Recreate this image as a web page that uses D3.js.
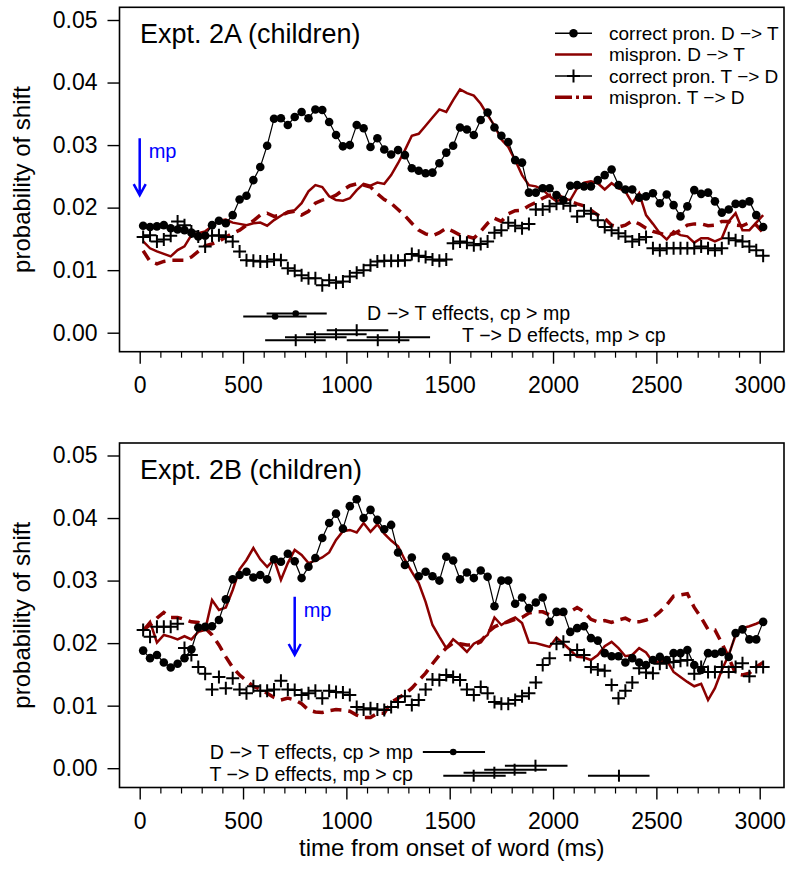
<!DOCTYPE html>
<html><head><meta charset="utf-8">
<script src="https://cdn.jsdelivr.net/npm/d3@7"></script>
<style>body{margin:0;background:#fff} text{font-family:"Liberation Sans",Arial,Helvetica,sans-serif}</style>
</head><body><svg id="c" width="798" height="870"></svg>
<script>
// ---------- data ----------
const times = d3.range(91).map(i => 16.7 + i * 100 / 3);   // sample times (ms), 30 Hz frames
const xTicks = [0, 500, 1000, 1500, 2000, 2500, 3000];
const xMinor = d3.range(0, 3001, 100).filter(d => d % 500 !== 0);
const yTicks = [0, 0.01, 0.02, 0.03, 0.04, 0.05];
const seriesLabels = ["correct pron. D \u2212> T", "mispron. D \u2212> T", "correct pron. T \u2212> D", "mispron. T \u2212> D"];
const panelTitles = ["Expt. 2A (children)", "Expt. 2B (children)"];
const effectLabels = ["D \u2212> T effects, cp > mp", "T \u2212> D effects, mp > cp"];

// Expt 2A
const cpDT_A = [.0171,.0169,.0170,.0172,.0167,.0165,.0164,.0160,.0154,.0155,.0172,.0179,.0175,.0188,.0213,.0219,.0244,.0265,.0299,.0342,.0343,.0332,.0345,.0353,.0343,.0357,.0356,.0337,.0316,.0298,.0300,.0332,.0327,.0297,.0311,.0293,.0285,.0292,.0284,.0263,.0259,.0255,.0256,.0271,.0288,.0299,.0328,.0325,.0316,.0340,.0352,.0328,.0315,.0305,.0276,.0272,.0224,.0224,.0231,.0231,.0220,.0212,.0235,.0236,.0234,.0234,.0244,.0252,.0261,.0236,.0229,.0229,.0216,.0218,.0223,.0207,.0221,.0204,.0186,.0202,.0228,.0222,.0224,.0210,.0192,.0197,.0206,.0206,.0210,.0188,.0169];
const mpDT_A = [.0146,.0135,.0130,.0126,.0122,.0132,.0138,.0156,.0159,.0162,.0170,.0179,.0181,.0176,.0174,.0172,.0175,.0176,.0171,.0180,.0187,.0194,.0196,.0207,.0226,.0236,.0233,.0218,.0212,.0211,.0215,.0228,.0238,.0235,.0240,.0238,.0252,.0271,.0292,.0315,.0318,.0331,.0344,.0357,.0353,.0372,.0389,.0383,.0379,.0366,.0348,.0331,.0309,.0297,.0276,.0252,.0236,.0234,.0229,.0218,.0210,.0215,.0212,.0231,.0240,.0242,.0239,.0229,.0239,.0231,.0226,.0207,.0223,.0188,.0174,.0159,.0149,.0162,.0156,.0154,.0144,.0151,.0151,.0146,.0151,.0178,.0191,.0164,.0164,.0176,.0188];
const cpTD_A = [.0153,.0156,.0146,.0149,.0155,.0178,.0172,.0162,.0154,.0138,.0155,.0156,.0153,.0146,.0130,.0116,.0115,.0114,.0114,.0117,.0116,.0103,.0099,.0092,.0087,.0087,.0076,.0084,.0080,.0082,.0090,.0096,.0100,.0108,.0114,.0115,.0115,.0115,.0116,.0126,.0123,.0121,.0117,.0115,.0117,.0143,.0146,.0144,.0140,.0142,.0146,.0160,.0164,.0176,.0171,.0167,.0174,.0197,.0197,.0202,.0206,.0207,.0203,.0186,.0195,.0190,.0180,.0169,.0164,.0159,.0154,.0146,.0149,.0153,.0135,.0132,.0135,.0135,.0135,.0135,.0135,.0138,.0135,.0132,.0135,.0151,.0148,.0146,.0138,.0132,.0123];
const mpTD_A = [.0131,.0114,.0110,.0114,.0116,.0116,.0116,.0121,.0130,.0139,.0142,.0146,.0153,.0159,.0164,.0172,.0179,.0188,.0191,.0186,.0188,.0192,.0194,.0188,.0194,.0207,.0212,.0215,.0220,.0228,.0235,.0238,.0236,.0233,.0222,.0213,.0207,.0197,.0187,.0175,.0164,.0158,.0155,.0160,.0167,.0162,.0156,.0154,.0151,.0162,.0175,.0183,.0178,.0190,.0195,.0196,.0203,.0208,.0215,.0220,.0222,.0215,.0210,.0206,.0203,.0196,.0188,.0183,.0172,.0169,.0172,.0179,.0174,.0167,.0162,.0159,.0156,.0158,.0164,.0172,.0174,.0174,.0171,.0172,.0178,.0178,.0172,.0171,.0176,.0172,.0160];

// Expt 2B
const cpDT_B = [.0188,.0176,.0181,.0169,.0161,.0167,.0176,.0190,.0225,.0226,.0227,.0237,.0270,.0302,.0309,.0314,.0305,.0309,.0302,.0334,.0330,.0343,.0331,.0304,.0322,.0336,.0368,.0392,.0407,.0383,.0419,.0430,.0400,.0413,.0397,.0382,.0389,.0345,.0325,.0337,.0307,.0314,.0307,.0300,.0338,.0332,.0302,.0313,.0304,.0316,.0306,.0259,.0300,.0300,.0263,.0273,.0256,.0265,.0273,.0234,.0250,.0250,.0218,.0224,.0227,.0208,.0204,.0184,.0179,.0179,.0169,.0176,.0169,.0165,.0173,.0178,.0173,.0184,.0184,.0189,.0165,.0157,.0184,.0183,.0186,.0178,.0216,.0222,.0206,.0206,.0234];
const mpDT_B = [.0221,.0234,.0201,.0213,.0210,.0206,.0211,.0206,.0218,.0221,.0269,.0253,.0257,.0285,.0318,.0333,.0352,.0334,.0322,.0334,.0301,.0328,.0349,.0341,.0328,.0332,.0337,.0345,.0365,.0379,.0381,.0377,.0392,.0378,.0390,.0375,.0364,.0355,.0333,.0314,.0296,.0266,.0229,.0210,.0192,.0206,.0197,.0186,.0199,.0205,.0213,.0241,.0229,.0236,.0241,.0232,.0201,.0200,.0197,.0194,.0209,.0199,.0189,.0178,.0177,.0173,.0181,.0195,.0202,.0192,.0179,.0181,.0192,.0185,.0170,.0170,.0173,.0154,.0146,.0138,.0131,.0135,.0109,.0128,.0157,.0181,.0213,.0224,.0227,.0231,.0236];
const cpTD_B = [.0221,.0210,.0226,.0226,.0226,.0231,.0192,.0181,.0162,.0151,.0126,.0146,.0128,.0144,.0126,.0120,.0131,.0124,.0124,.0126,.0140,.0126,.0125,.0117,.0120,.0124,.0112,.0124,.0122,.0121,.0117,.0098,.0094,.0096,.0094,.0093,.0098,.0106,.0115,.0101,.0109,.0126,.0142,.0141,.0149,.0146,.0141,.0126,.0117,.0130,.0120,.0106,.0103,.0103,.0109,.0115,.0120,.0137,.0165,.0176,.0199,.0202,.0181,.0189,.0181,.0162,.0158,.0156,.0133,.0112,.0124,.0137,.0160,.0153,.0152,.0167,.0169,.0170,.0172,.0173,.0151,.0162,.0154,.0154,.0162,.0154,.0162,.0168,.0147,.0162,.0162];
const mpTD_B = [.0221,.0229,.0240,.0249,.0241,.0241,.0238,.0234,.0233,.0224,.0213,.0197,.0178,.0161,.0149,.0140,.0131,.0126,.0120,.0113,.0109,.0112,.0109,.0103,.0093,.0090,.0089,.0092,.0094,.0093,.0091,.0085,.0081,.0081,.0088,.0088,.0105,.0112,.0119,.0128,.0140,.0152,.0167,.0181,.0192,.0200,.0199,.0197,.0197,.0202,.0217,.0226,.0231,.0234,.0238,.0241,.0248,.0250,.0250,.0245,.0247,.0247,.0250,.0257,.0250,.0238,.0234,.0236,.0233,.0237,.0240,.0234,.0234,.0237,.0241,.0250,.0261,.0275,.0277,.0279,.0257,.0241,.0222,.0221,.0200,.0177,.0151,.0149,.0152,.0162,.0169];

// effect-time intervals (ms): lower, centre, upper
const effDT_A = [{lo:501,mid:655,hi:808},{lo:614,mid:755,hi:905}];
const effTD_A = [{lo:607,mid:755,hi:900},{lo:703,mid:848,hi:1001},{lo:805,mid:950,hi:1098},{lo:905,mid:1050,hi:1203},{lo:1002,mid:1152,hi:1305},{lo:1098,mid:1255,hi:1405}];
const effDT_B = [{lo:1370,mid:1517,hi:1671}];
const effTD_B = [{lo:1469,mid:1616,hi:1771},{lo:1567,mid:1716,hi:1871},{lo:1667,mid:1814,hi:1970},{lo:1767,mid:1915,hi:2070},{lo:2169,mid:2319,hi:2467}];

// mispronunciation onset marker (ms)
const mpOnset = [0, 750];

// ---------- drawing ----------
const RED = "#8b0000";
const FONT = '"Liberation Sans",Arial,sans-serif';
const svg = d3.select("#c");
svg.append("rect").attr("width", 798).attr("height", 870).attr("fill", "#fff");

const x = d3.scaleLinear().domain([0, 3000]).range([139.7, 759.7]);
const boxL = 119.5, boxR = 784;

const panels = [
  {top: 7.3, bottom: 351.7, yr: [332.7, 20.0], cp: cpDT_A, mp: mpDT_A, cp2: cpTD_A, mp2: mpTD_A,
   eDT: effDT_A, eTD: effTD_A, title: panelTitles[0], mp0: mpOnset[0], arrowV: [0.0311, 0.0220],
   legend: true, xTitle: false},
  {top: 443.0, bottom: 787.5, yr: [768.2, 455.5], cp: cpDT_B, mp: mpDT_B, cp2: cpTD_B, mp2: mpTD_B,
   eDT: effDT_B, eTD: effTD_B, title: panelTitles[1], mp0: mpOnset[1], arrowV: [0.0274, 0.0181],
   legend: false, xTitle: true}
];

panels.forEach((p, pi) => {
  const y = d3.scaleLinear().domain([0, 0.05]).range(p.yr);
  const g = svg.append("g");

  // box
  g.append("rect").attr("x", boxL).attr("y", p.top).attr("width", boxR - boxL).attr("height", p.bottom - p.top)
    .attr("fill", "none").attr("stroke", "#000").attr("stroke-width", 1.6);

  // y axis
  const ya = g.append("g").attr("transform", `translate(${boxL},0)`)
    .call(d3.axisLeft(y).tickValues(yTicks).tickFormat(d3.format(".2f")).tickSize(12).tickPadding(10));
  ya.select(".domain").remove();
  ya.selectAll("line").attr("stroke-width", 1.4);
  ya.selectAll("text").attr("font-size", 23).attr("font-family", FONT).attr("fill", "#000");

  // x axis
  const xa = g.append("g").attr("transform", `translate(0,${p.bottom})`)
    .call(d3.axisBottom(x).tickValues(xTicks).tickFormat(d3.format("d")).tickSize(12).tickPadding(13));
  xa.select(".domain").remove();
  xa.selectAll("line").attr("stroke-width", 1.4);
  xa.selectAll("text").attr("font-size", 23).attr("font-family", FONT).attr("fill", "#000");
  const xm = g.append("g").attr("transform", `translate(0,${p.bottom})`)
    .call(d3.axisBottom(x).tickValues(xMinor).tickSize(6).tickFormat(""));
  xm.select(".domain").remove();
  xm.selectAll("line").attr("stroke-width", 1.2);

  // y title
  g.append("text").attr("transform", `translate(22,${(p.top + p.bottom) / 2}) rotate(-90)`)
    .attr("text-anchor", "middle").attr("dy", "0.35em").attr("font-size", 24).text("probability of shift");

  // panel title
  g.append("text").attr("x", 140).attr("y", p.top + 36).attr("font-size", 27).text(p.title);

  const line = d3.line().x((d, i) => x(times[i])).y(d => y(d));

  // mispron T->D dashed
  g.append("path").attr("d", line(p.mp2)).attr("fill", "none").attr("stroke", RED)
    .attr("stroke-width", 3.5).attr("stroke-dasharray", "11,7");
  // mispron D->T solid
  g.append("path").attr("d", line(p.mp)).attr("fill", "none").attr("stroke", RED).attr("stroke-width", 2.5);
  // correct pron D->T: line + dots
  g.append("path").attr("d", line(p.cp)).attr("fill", "none").attr("stroke", "#000").attr("stroke-width", 1.2);
  g.selectAll(".dot").data(p.cp).join("circle").attr("class", "dot")
    .attr("cx", (d, i) => x(times[i])).attr("cy", d => y(d)).attr("r", 4.3).attr("fill", "#000");
  // correct pron T->D: crosses
  g.selectAll(".cross").data(p.cp2).join("path").attr("class", "cross")
    .attr("transform", (d, i) => `translate(${x(times[i])},${y(d)})`)
    .attr("d", "M-6.5,0H6.5M0,-6.5V6.5").attr("stroke", "#000").attr("stroke-width", 2).attr("fill", "none");

  // effect intervals
  const rowDT = y(0.0026), rowTD = y(-0.0012);
  const stag = [0, -3, -6, -10];
  p.eDT.forEach((e, k) => {
    const yy = rowDT + stag[k % 4];
    g.append("line").attr("x1", x(e.lo)).attr("x2", x(e.hi)).attr("y1", yy).attr("y2", yy).attr("stroke", "#000").attr("stroke-width", 2);
    g.append("circle").attr("cx", x(e.mid)).attr("cy", yy).attr("r", 3.3).attr("fill", "#000");
  });
  p.eTD.forEach((e, k) => {
    const yy = rowTD + stag[k % 4];
    g.append("line").attr("x1", x(e.lo)).attr("x2", x(e.hi)).attr("y1", yy).attr("y2", yy).attr("stroke", "#000").attr("stroke-width", 2);
    g.append("line").attr("x1", x(e.mid)).attr("x2", x(e.mid)).attr("y1", yy - 6).attr("y2", yy + 6).attr("stroke", "#000").attr("stroke-width", 2);
  });
  if (pi === 0) {
    g.append("text").attr("x", x(1100)).attr("y", rowDT - 3).attr("dy", "0.35em").attr("font-size", 19.6).text(effectLabels[0]);
    g.append("text").attr("x", x(1560)).attr("y", rowTD - 5).attr("dy", "0.35em").attr("font-size", 19.6).text(effectLabels[1]);
  } else {
    g.append("text").attr("x", x(1322)).attr("y", rowDT).attr("dy", "0.35em").attr("text-anchor", "end").attr("font-size", 19.6).text(effectLabels[0]);
    g.append("text").attr("x", x(1322)).attr("y", rowTD - 2).attr("dy", "0.35em").attr("text-anchor", "end").attr("font-size", 19.6).text(effectLabels[1]);
  }

  // mp arrow
  const ax = x(p.mp0), a0 = y(p.arrowV[0]), a1 = y(p.arrowV[1]);
  g.append("path").attr("d", `M${ax},${a0}V${a1}M${ax - 6},${a1 - 11}L${ax},${a1}L${ax + 6},${a1 - 11}`)
    .attr("fill", "none").attr("stroke", "#0000ff").attr("stroke-width", 2.5);
  g.append("text").attr("x", ax + 9).attr("y", a0 + 20).attr("font-size", 20).attr("fill", "#0000ff").text("mp");

  // legend
  if (p.legend) {
    const lx0 = 555, lx1 = 592, tx = 609, ly = [33.3, 54.5, 76, 97.3];
    const lg = g.append("g");
    lg.append("line").attr("x1", lx0).attr("x2", lx1).attr("y1", ly[0]).attr("y2", ly[0]).attr("stroke", "#000").attr("stroke-width", 1.4);
    lg.append("circle").attr("cx", (lx0 + lx1) / 2).attr("cy", ly[0]).attr("r", 4.3).attr("fill", "#000");
    lg.append("line").attr("x1", lx0).attr("x2", lx1).attr("y1", ly[1]).attr("y2", ly[1]).attr("stroke", RED).attr("stroke-width", 2.5);
    lg.append("line").attr("x1", lx0).attr("x2", lx1).attr("y1", ly[2]).attr("y2", ly[2]).attr("stroke", "#000").attr("stroke-width", 1.4);
    lg.append("path").attr("transform", `translate(${(lx0 + lx1) / 2},${ly[2]})`).attr("d", "M-6.5,0H6.5M0,-6.5V6.5").attr("stroke", "#000").attr("stroke-width", 2);
    lg.append("line").attr("x1", lx0).attr("x2", lx1).attr("y1", ly[3]).attr("y2", ly[3]).attr("stroke", RED)
      .attr("stroke-width", 3.5).attr("stroke-dasharray", "17,4,3,4,12");
    seriesLabels.forEach((s, k) => lg.append("text").attr("x", tx).attr("y", ly[k]).attr("dy", "0.35em").attr("font-size", 19).text(s));
  }

  if (p.xTitle) {
    svg.append("text").attr("x", (boxL + boxR) / 2).attr("y", 856).attr("text-anchor", "middle").attr("font-size", 24)
      .text("time from onset of word (ms)");
  }
});
</script></body></html>
